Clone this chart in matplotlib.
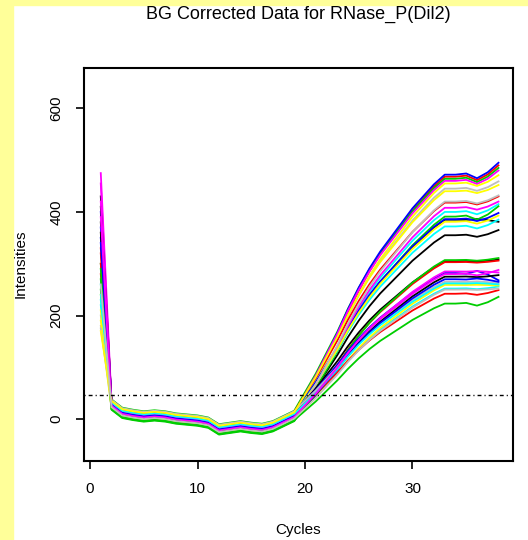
import numpy as np
import matplotlib.pyplot as plt
from matplotlib.patches import Rectangle

plt.rcParams['font.family'] = ['Liberation Sans', 'DejaVu Sans']

cycles = np.arange(1, 39)

# value at cycle 1 for each well (curve order follows the R palette cycle)
start_vals = [430, 330, 300, 400, 260, 475, 240, 200,
              380, 280, 250, 350, 220, 455, 210, 180,
              410, 300, 270, 370, 230, 420, 190, 175,
              360, 320, 290, 340, 240, 390, 170, 260]

# shared background-corrected baseline, cycles 2..19
baseline = [28, 12, 8, 5, 7, 5, 1, -1, -3, -7, -20, -17, -14, -17, -19, -14, -4, 6]

# per-well offset of the baseline
base_off = [4, -6, 10, 2, -3, 6, -8, 0,
            -2, 8, -10, 5, 3, -5, 1, -7,
            6, -4, -9, 7, -1, 2, -6, 9,
            -3, 5, -8, 0, 4, -2, 7, -5]

# amplification, normalised, cycles 20..33
rise = [0.08, 0.16, 0.25, 0.34, 0.44, 0.53, 0.61, 0.68, 0.74, 0.80, 0.86, 0.91, 0.96, 1.00]

# plateau level at cycle 33 and final level at cycle 38
plateau = [385, 468, 464, 472, 400, 460, 455, 445,
           355, 418, 391, 386, 372, 408, 381, 420,
           305, 303, 307, 282, 252, 280, 259, 265,
           275, 242, 223, 270, 262, 285, 440, 250]
end_vals = [381, 490, 485, 495, 415, 480, 471, 459,
            365, 430, 411, 398, 385, 420, 393, 432,
            308, 306, 311, 268, 256, 288, 258, 262,
            278, 249, 236, 265, 260, 283, 452, 252]

# shape of the last cycles, 34..38, from plateau to final level
tail = [0.0, 0.1, -0.3, 0.2, 1.0]

threshold = 46

colors = ['#000000', '#FF0000', '#00CD00', '#0000FF',
          '#00FFFF', '#FF00FF', '#FFFF00', '#BEBEBE']

fig = plt.figure(figsize=(5.28, 5.4), dpi=100)
fig.patches.append(Rectangle((0, 0), 13 / 528, 1, transform=fig.transFigure,
                             color='#FFFF99', zorder=-1))
fig.patches.append(Rectangle((0, 1 - 5 / 540), 1, 5 / 540, transform=fig.transFigure,
                             color='#FFFF99', zorder=-1))

ax = fig.add_axes([84 / 528, 1 - 461 / 540, (513 - 84) / 528, (461 - 68) / 540])

for i in range(len(start_vals)):
    base = np.array(baseline) + base_off[i]
    b19 = base[-1]
    up = b19 + (plateau[i] - b19) * np.array(rise)
    last = plateau[i] + (end_vals[i] - plateau[i]) * np.array(tail)
    y = np.concatenate([[start_vals[i]], base, up, last])
    ax.plot(cycles, y, color=colors[i % 8], lw=1.3)

ax.axhline(threshold, color='black', lw=1.0, dashes=(0.8, 2.2, 2.8, 2.2))

ax.set_xlim(-0.56, 39.35)
ax.set_ylim(-81, 678)
ax.set_xticks([0, 10, 20, 30])
ax.set_yticks([0, 200, 400, 600])
ax.set_yticklabels(['0', '200', '400', '600'], rotation=90, va='center')
ax.tick_params(direction='out', length=6, width=1.2, labelsize=11, pad=9)
for s in ax.spines.values():
    s.set_linewidth(1.5)

fig.text(298 / 528, 1 - 14 / 540, 'BG Corrected Data for RNase_P(Dil2)',
         ha='center', va='center', fontsize=13)
fig.text(298 / 528, 1 - 530 / 540, 'Cycles', ha='center', va='center', fontsize=11)
fig.text(21 / 528, 1 - 264 / 540, 'Intensities', ha='center', va='center',
         rotation=90, fontsize=11)

fig.savefig('out.png', dpi=100)
